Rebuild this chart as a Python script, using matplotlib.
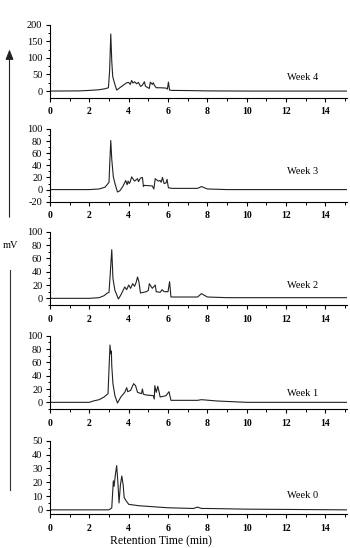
import numpy as np
import matplotlib
matplotlib.use("Agg")
import matplotlib.pyplot as plt
from matplotlib.ticker import MultipleLocator, AutoMinorLocator
from matplotlib.patches import FancyArrowPatch
from matplotlib.lines import Line2D

plt.rcParams['font.family'] = ['Liberation Serif', 'DejaVu Serif']
plt.rcParams['axes.unicode_minus'] = False

# retention time (min) / signal (mV)
w4_t = [0, 1.5, 2.0, 2.5, 2.8, 2.97, 3.03, 3.09, 3.14, 3.19, 3.31, 3.39, 3.55, 3.73, 3.9,
        4.0, 4.08, 4.15, 4.22, 4.3, 4.4, 4.5, 4.6, 4.7, 4.8, 4.85, 4.95, 5.05, 5.1, 5.2,
        5.25, 5.3, 5.4, 5.6, 5.9, 5.97, 6.02, 6.08, 6.2, 7.0, 8.0, 10.0, 15.1]
w4_v = [0, 0.5, 2, 4, 7, 10, 60, 172, 90, 43, 18, 3, 10, 18, 25,
        26, 20, 32, 24, 28, 22, 26, 14, 18, 28, 15, 11, 8, 27, 20,
        25, 18, 10, 10, 9, 6, 27, 3, 2, 1.5, 0.5, 0, 0]

w3_t = [0, 2.0, 2.5, 2.8, 2.95, 3.0, 3.04, 3.09, 3.14, 3.22, 3.32, 3.43, 3.55, 3.7, 3.85,
        3.92, 3.97, 4.03, 4.08, 4.15, 4.3, 4.45, 4.5, 4.6, 4.7, 4.75, 4.8, 5.2, 5.28, 5.35,
        5.5, 5.6, 5.65, 5.72, 5.8, 5.9, 5.95, 6.02, 6.2, 7.5, 7.7, 8.0, 9.0, 15.1]
w3_v = [0, 0, 1, 4, 10, 12, 45, 81, 50, 21, 8, -4, -2, 5, 15,
        8, 14, 10, 13, 21, 14, 18, 13, 19, 20, 5, 7, 6, 1, 18,
        14, 15, 12, 20, 10, 11, 17, 3, 2, 2, 5, 1, 0, 0]

w2_t = [0, 2.0, 2.5, 2.75, 2.92, 3.0, 3.07, 3.14, 3.2, 3.3, 3.48, 3.6, 3.8, 3.9, 4.0,
        4.1, 4.2, 4.3, 4.38, 4.45, 4.52, 4.6, 4.9, 5.0, 5.05, 5.2, 5.35, 5.4, 5.6, 5.7,
        5.8, 6.0, 6.08, 6.15, 7.5, 7.7, 8.0, 9.0, 15.1]
w2_v = [0, 0, 1, 4, 8, 9, 40, 73, 30, 12, -1, 5, 17, 13, 20,
        15, 22, 18, 24, 32, 25, 8, 10, 12, 22, 15, 20, 10, 9, 13,
        10, 10, 25, 2, 2, 7, 2, 1, 1]

w1_t = [0, 2.0, 2.2, 2.5, 2.75, 2.95, 3.0, 3.05, 3.09, 3.12, 3.14, 3.2, 3.3, 3.43, 3.6,
        3.8, 3.9, 3.95, 4.1, 4.25, 4.35, 4.45, 4.65, 4.7, 4.75, 4.9, 5.25, 5.3, 5.33, 5.4,
        5.48, 5.55, 5.6, 5.9, 6.05, 6.15, 7.5, 7.7, 8.5, 10.0, 15.1]
w1_v = [0, 0, 2, 4, 8, 13, 50, 86, 73, 77, 55, 28, 10, -1, 8,
        15, 22, 16, 18, 28, 25, 15, 13, 20, 12, 11, 10, 5, 25, 15,
        24, 15, 8, 10, 16, 3, 3, 4, 2, 0, 0]

w0_t = [0, 3.0, 3.14, 3.22, 3.26, 3.32, 3.39, 3.45, 3.51, 3.58, 3.65, 3.72, 3.77, 3.85, 4.0,
        4.5, 6.0, 7.3, 7.5, 7.7, 8.0, 10.0, 15.1]
w0_v = [0, 0, 1.4, 21, 17, 25, 32, 20, 5, 18, 24.5, 18, 9, 7, 4,
        3, 1.5, 1, 2, 1, 1, 0.5, 0]

weeks = ["Week 4", "Week 3", "Week 2", "Week 1", "Week 0"]
series = [(w4_t, w4_v), (w3_t, w3_v), (w2_t, w2_v), (w1_t, w1_v), (w0_t, w0_v)]
ylims = [(-20, 200), (-20, 100), (-10, 100), (-10, 100), (-3, 50)]
ysteps = [50, 20, 20, 20, 10]
label_y = [0.28, 0.41, 0.26, 0.21, 0.25]

W, H = 350, 548
fig = plt.figure(figsize=(W / 100, H / 100), dpi=100)

tops = [24.7, 129, 231.7, 335.7, 440.7]
bots = [97.7, 201.7, 305, 409, 514]

for i in range(5):
    ax = fig.add_axes([50 / W, 1 - bots[i] / H, 297 / W, (bots[i] - tops[i]) / H])
    t, v = series[i]
    ax.plot(t, v, color='#222222', lw=0.8)
    ax.set_xlim(0, 15.1)
    ax.set_ylim(*ylims[i])
    ax.spines['top'].set_visible(False)
    ax.spines['right'].set_visible(False)
    for s in ['left', 'bottom']:
        ax.spines[s].set_linewidth(0.8)
    ax.xaxis.set_major_locator(MultipleLocator(2))
    ax.xaxis.set_minor_locator(MultipleLocator(1))
    ax.yaxis.set_major_locator(MultipleLocator(ysteps[i]))
    ax.yaxis.set_minor_locator(AutoMinorLocator(2))
    ax.tick_params(axis='both', which='major', length=3, width=0.8, direction='out')
    ax.tick_params(axis='both', which='minor', length=1.8, width=0.7, direction='out')
    ax.tick_params(axis='x', pad=4, labelsize=7)
    ax.tick_params(axis='y', pad=2.5, labelsize=7.5)
    for lab in ax.get_xticklabels():
        lab.set_fontweight('bold')
    ypos = ylims[i][0] + label_y[i] * (ylims[i][1] - ylims[i][0])
    ax.text(12.05, ypos, weeks[i], fontsize=7.5, va='center')

fig.text(161 / W, 1 - 541 / H, "Retention Time (min)", fontsize=8.5, ha='center', va='center')
fig.text(10 / W, 1 - 245 / H, "mV", fontsize=7.5, ha='center', va='center')

x_ar = 9.5 / W
fig.add_artist(Line2D([x_ar, x_ar], [1 - 490 / H, 1 - 270 / H], color='#333333', lw=0.8,
                      transform=fig.transFigure))
fig.add_artist(FancyArrowPatch((x_ar, 1 - 220 / H), (x_ar, 1 - 46.7 / H),
                               transform=fig.transFigure, arrowstyle='-|>,head_length=4,head_width=1.6',
                               color='#222222', lw=0.8, mutation_scale=1.5))

fig.savefig("out.png", dpi=100)
